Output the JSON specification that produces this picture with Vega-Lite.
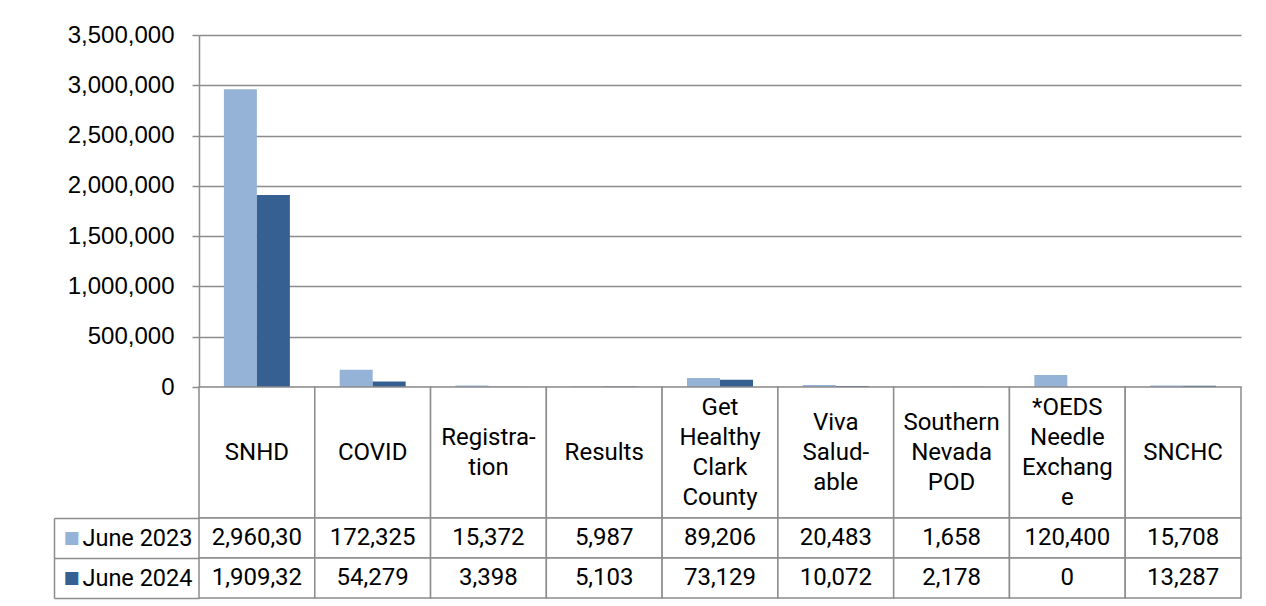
{
  "$schema": "https://vega.github.io/schema/vega-lite/v6.json",
  "padding": {"left": 53, "top": 23, "right": 10, "bottom": 5},
  "bounds": "flush",
  "spacing": 0,
  "background": "white",
  "config": {"view": {"stroke": null}, "font": "Roboto"},
  "datasets": {
    "values": [
      {"category": "SNHD", "series": "June 2023", "value": 2960300, "label": "2,960,30"},
      {"category": "SNHD", "series": "June 2024", "value": 1909320, "label": "1,909,32"},
      {"category": "COVID", "series": "June 2023", "value": 172325, "label": "172,325"},
      {"category": "COVID", "series": "June 2024", "value": 54279, "label": "54,279"},
      {"category": "Registration", "series": "June 2023", "value": 15372, "label": "15,372"},
      {"category": "Registration", "series": "June 2024", "value": 3398, "label": "3,398"},
      {"category": "Results", "series": "June 2023", "value": 5987, "label": "5,987"},
      {"category": "Results", "series": "June 2024", "value": 5103, "label": "5,103"},
      {"category": "Get Healthy Clark County", "series": "June 2023", "value": 89206, "label": "89,206"},
      {"category": "Get Healthy Clark County", "series": "June 2024", "value": 73129, "label": "73,129"},
      {"category": "Viva Saludable", "series": "June 2023", "value": 20483, "label": "20,483"},
      {"category": "Viva Saludable", "series": "June 2024", "value": 10072, "label": "10,072"},
      {"category": "Southern Nevada POD", "series": "June 2023", "value": 1658, "label": "1,658"},
      {"category": "Southern Nevada POD", "series": "June 2024", "value": 2178, "label": "2,178"},
      {"category": "*OEDS Needle Exchange", "series": "June 2023", "value": 120400, "label": "120,400"},
      {"category": "*OEDS Needle Exchange", "series": "June 2024", "value": 0, "label": "0"},
      {"category": "SNCHC", "series": "June 2023", "value": 15708, "label": "15,708"},
      {"category": "SNCHC", "series": "June 2024", "value": 13287, "label": "13,287"}
    ],
    "cats": [
      {"category": "SNHD", "heading": ["SNHD"]},
      {"category": "COVID", "heading": ["COVID"]},
      {"category": "Registration", "heading": ["Registra-", "tion"]},
      {"category": "Results", "heading": ["Results"]},
      {"category": "Get Healthy Clark County", "heading": ["Get", "Healthy", "Clark", "County"]},
      {"category": "Viva Saludable", "heading": ["Viva", "Salud-", "able"]},
      {"category": "Southern Nevada POD", "heading": ["Southern", "Nevada", "POD"]},
      {"category": "*OEDS Needle Exchange", "heading": ["*OEDS", "Needle", "Exchang", "e"]},
      {"category": "SNCHC", "heading": ["SNCHC"]}
    ]
  },
  "vconcat": [
    {
      "width": 1042,
      "height": 352,
      "data": {"name": "values"},
      "mark": {"type": "bar"},
      "encoding": {
        "x": {
          "field": "category", "type": "nominal",
          "sort": ["SNHD", "COVID", "Registration", "Results", "Get Healthy Clark County", "Viva Saludable", "Southern Nevada POD", "*OEDS Needle Exchange", "SNCHC"],
          "scale": {"paddingInner": 0.43, "paddingOuter": 0.215},
          "axis": null
        },
        "xOffset": {"field": "series", "type": "nominal", "sort": ["June 2023", "June 2024"]},
        "y": {
          "field": "value", "type": "quantitative",
          "scale": {"domain": [0, 3500000], "nice": false},
          "axis": {
            "title": null,
            "values": [0, 500000, 1000000, 1500000, 2000000, 2500000, 3000000, 3500000],
            "format": ",d",
            "labelFont": "Liberation Sans",
            "labelFontSize": 24,
            "labelColor": "#000000",
            "labelPadding": 18,
            "tickSize": 7,
            "tickColor": "#8c8c8c",
            "tickWidth": 1.5,
            "domainColor": "#8c8c8c",
            "domainWidth": 1.5,
            "gridColor": "#8c8c8c",
            "gridWidth": 1.5
          }
        },
        "color": {
          "field": "series", "type": "nominal",
          "scale": {"domain": ["June 2023", "June 2024"], "range": ["#95B3D7", "#376092"]},
          "legend": null
        }
      }
    },
    {
      "width": 1042,
      "height": 131,
      "data": {"name": "cats"},
      "encoding": {
        "x": {
          "field": "category", "type": "nominal",
          "sort": ["SNHD", "COVID", "Registration", "Results", "Get Healthy Clark County", "Viva Saludable", "Southern Nevada POD", "*OEDS Needle Exchange", "SNCHC"],
          "scale": {"padding": 0},
          "axis": null
        }
      },
      "layer": [
        {
          "mark": {"type": "rect", "fill": "#ffffff", "stroke": "#8c8c8c", "strokeWidth": 1.5}
        },
        {
          "transform": [{"filter": "length(datum.heading) == 1"}],
          "mark": {"type": "text", "fontSize": 24, "lineHeight": 30, "baseline": "middle", "color": "#000000"},
          "encoding": {"text": {"field": "heading"}}
        },
        {
          "transform": [{"filter": "length(datum.heading) == 2"}],
          "mark": {"type": "text", "fontSize": 24, "lineHeight": 30, "baseline": "middle", "dy": -15, "color": "#000000"},
          "encoding": {"text": {"field": "heading"}}
        },
        {
          "transform": [{"filter": "length(datum.heading) == 3"}],
          "mark": {"type": "text", "fontSize": 24, "lineHeight": 30, "baseline": "middle", "dy": -30, "color": "#000000"},
          "encoding": {"text": {"field": "heading"}}
        },
        {
          "transform": [{"filter": "length(datum.heading) == 4"}],
          "mark": {"type": "text", "fontSize": 24, "lineHeight": 30, "baseline": "middle", "dy": -45, "color": "#000000"},
          "encoding": {"text": {"field": "heading"}}
        }
      ]
    },
    {
      "width": 1042,
      "height": 80,
      "data": {"name": "values"},
      "resolve": {"axis": {"y": "independent"}},
      "layer": [
        {
          "mark": {"type": "rect", "fill": "#ffffff", "stroke": "#8c8c8c", "strokeWidth": 1.5},
          "encoding": {
            "x": {
              "field": "category", "type": "nominal",
              "sort": ["SNHD", "COVID", "Registration", "Results", "Get Healthy Clark County", "Viva Saludable", "Southern Nevada POD", "*OEDS Needle Exchange", "SNCHC"],
              "scale": {"padding": 0},
              "axis": null
            },
            "y": {
              "field": "series", "type": "nominal",
              "sort": ["June 2023", "June 2024"],
              "scale": {"padding": 0},
              "axis": {
                "orient": "left",
                "title": null,
                "domain": false,
                "tickBand": "extent",
                "tickSize": 145,
                "tickColor": "#8c8c8c",
                "tickWidth": 1.5,
                "labelPadding": -138,
                "labelAlign": "right",
                "labelFont": "Roboto",
                "labelFontSize": 23.5,
                "labelColor": "#000000"
              }
            }
          }
        },
        {
          "mark": {"type": "text", "fontSize": 24, "color": "#000000"},
          "encoding": {
            "x": {
              "field": "category", "type": "nominal",
              "sort": ["SNHD", "COVID", "Registration", "Results", "Get Healthy Clark County", "Viva Saludable", "Southern Nevada POD", "*OEDS Needle Exchange", "SNCHC"],
              "scale": {"padding": 0},
              "axis": null
            },
            "y": {
              "field": "series", "type": "nominal",
              "sort": ["June 2023", "June 2024"],
              "scale": {"padding": 0},
              "axis": {
                "orient": "left",
                "offset": 145,
                "title": null,
                "ticks": false,
                "domainColor": "#8c8c8c",
                "domainWidth": 1.5,
                "labelExpr": "'■'",
                "labelAlign": "left",
                "labelPadding": -9,
                "labelFont": "DejaVu Sans",
                "labelFontSize": 17,
                "labelColor": {"condition": {"test": "datum.value === 'June 2023'", "value": "#95B3D7"}, "value": "#376092"}
              }
            },
            "text": {"field": "label"}
          }
        }
      ]
    }
  ]
}
